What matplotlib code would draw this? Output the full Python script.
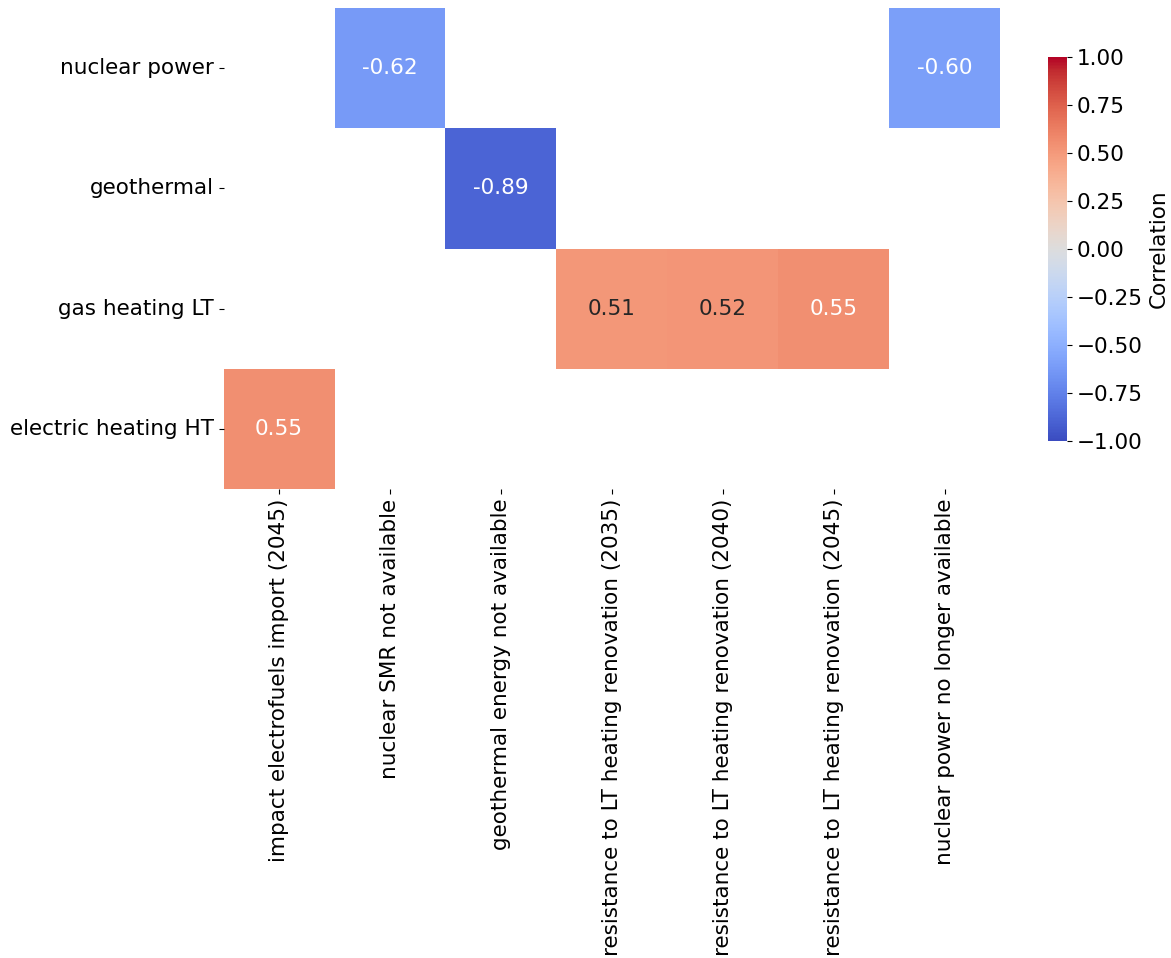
import matplotlib
matplotlib.use("Agg")
import matplotlib.pyplot as plt
import numpy as np
import pandas as pd
import seaborn as sns

rows = ["nuclear power", "geothermal", "gas heating LT", "electric heating HT"]
cols = [
    "impact electrofuels import (2045)",
    "nuclear SMR not available",
    "geothermal energy not available",
    "resistance to LT heating renovation (2035)",
    "resistance to LT heating renovation (2040)",
    "resistance to LT heating renovation (2045)",
    "nuclear power no longer available",
]
nan = np.nan
nuclear_power = [nan, -0.62, nan, nan, nan, nan, -0.60]
geothermal = [nan, nan, -0.89, nan, nan, nan, nan]
gas_heating_lt = [nan, nan, nan, 0.51, 0.52, 0.55, nan]
electric_heating_ht = [0.55, nan, nan, nan, nan, nan, nan]

df = pd.DataFrame([nuclear_power, geothermal, gas_heating_lt, electric_heating_ht],
                  index=rows, columns=cols)

plt.rcParams["font.size"] = 15.5

fig = plt.figure(figsize=(11.71, 9.58), dpi=100)
ax = fig.add_axes([0.191, 0.4896, 0.663, 0.502])
cax = fig.add_axes([0.895, 0.5397, 0.0165, 0.4008])

sns.heatmap(df, ax=ax, cbar_ax=cax, cmap="coolwarm", vmin=-1, vmax=1,
            annot=True, fmt=".2f", annot_kws={"size": 15.5},
            cbar_kws={"label": "Correlation"})
ax.set_xticklabels(cols, rotation=90)
ax.set_yticklabels(rows, rotation=0)

fig.savefig("out.png", dpi=100)
